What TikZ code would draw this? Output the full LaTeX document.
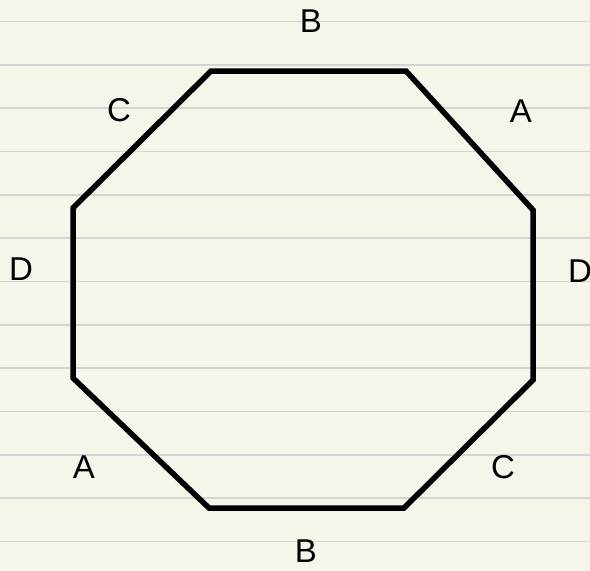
\documentclass[tikz,border=0pt]{standalone}
\usepackage{fontspec}
\setmainfont{Liberation Sans}
\usepackage{tikz}
\usetikzlibrary{positioning}
\definecolor{paper}{RGB}{247,245,233}
\definecolor{rule}{RGB}{212,212,212}

\begin{document}
\begin{tikzpicture}[
  x=1pt, y=-1pt,
  edge/.style={line width=5.5pt, line join=miter, draw=black},
  lbl/.style={font=\fontsize{33}{36}\selectfont, inner sep=0pt}
]
  \fill[paper] (0,0) rectangle (590,571);
  \useasboundingbox (0,0) rectangle (590,571);
  \foreach \k in {0,...,12}
    \draw[rule, line width=1.5pt] (0,21.5+43.33*\k) -- (590,21.5+43.33*\k);

  % octagon corners
  \coordinate (p1) at (211,71);
  \coordinate (p2) at (406,71);
  \coordinate (p3) at (533,210);
  \coordinate (p4) at (533,380);
  \coordinate (p5) at (404,508);
  \coordinate (p6) at (209,508);
  \coordinate (p7) at (73,378);
  \coordinate (p8) at (73,208);
  \draw[edge] (p1) -- (p2) -- (p3) -- (p4) -- (p5) -- (p6) -- (p7) -- (p8) -- cycle;

  % side labels
  \node[lbl] (bt) at (311,21) {B};
  \node[lbl] (ar) at (521,111) {A};
  \node[lbl] (dr) at (580,271) {D};
  \node[lbl] (cr) at (503,467) {C};
  \node[lbl] (bb) at (306,551) {B};
  \node[lbl] (al) at (84,467) {A};
  \node[lbl] (dl) at (21,269) {D};
  \node[lbl] (cl) at (119,110) {C};
\end{tikzpicture}
\end{document}
